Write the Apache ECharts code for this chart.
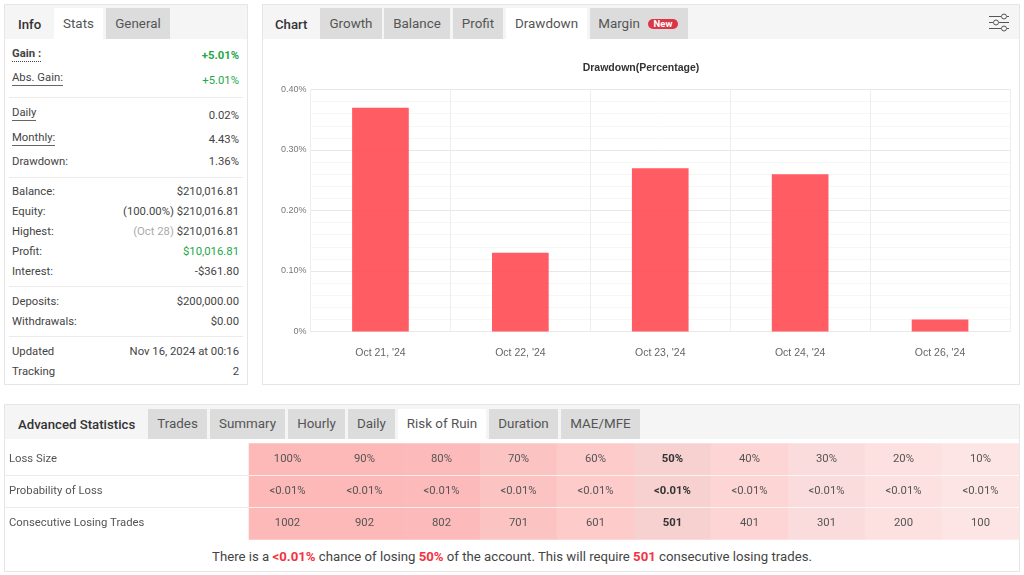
<!DOCTYPE html>
<html>
<head>
<meta charset="UTF-8">
<title>Drawdown</title>
<script src="https://cdn.jsdelivr.net/npm/echarts@6/dist/echarts.min.js"></script>
<style>
    html, body { margin: 0; padding: 0; background: #fff; }
    body { width: 1024px; height: 575px; position: relative; overflow: hidden; font-family: Roboto, sans-serif; color: #444; }
    .panel { position: absolute; box-sizing: border-box; border: 1px solid #e6e6e6; background: #fff; }
    .bar { position: absolute; background: #f5f5f5; }
    .tab { position: absolute; background: #dcdcdc; color: #555; font-size: 13.4px; text-align: center; }
    .tab.on { background: #fff; }
    .head { position: absolute; color: #333; font-size: 13.2px; font-weight: 500; }
    .t { position: absolute; font-size: 11.3px; line-height: 14px; white-space: nowrap; }
    .hr { position: absolute; height: 1px; background: #ebebeb; }
    .badge { position: absolute; left: 648px; top: 19px; width: 30px; height: 10px; border-radius: 5px; background: #dc3545; color: #fff; font-size: 9.5px; line-height: 10px; font-weight: 700; text-align: center; }
    b.red { color: #f5333f; font-weight: 700; }
</style>
</head>
<body>
    <div class="panel" style="left:4px;top:4px;width:244px;height:381px"></div>
    <div class="panel" style="left:262px;top:4px;width:758px;height:381px"></div>
    <div class="panel" style="left:4px;top:404px;width:1016px;height:168px"></div>
    <div class="bar" style="left:5px;top:5px;width:242px;height:34px"></div>
    <div class="bar" style="left:263px;top:5px;width:756px;height:34px"></div>
    <div class="bar" style="left:5px;top:405px;width:1014px;height:34px"></div>
    <div id="tabs"></div>
    <div id="side"></div>
    <div class="badge">New</div>
    <svg style="position:absolute;left:988px;top:12px" width="22" height="21" fill="none" stroke="#555" stroke-width="1">
        <path d="M1 4.5H13M19 4.5H21M1 10.5H5M11 10.5H21M1 16.5H13M19 16.5H21"/>
        <circle cx="16" cy="4.5" r="2.5"/><circle cx="8" cy="10.5" r="2.5"/><circle cx="16" cy="16.5" r="2.5"/>
    </svg>
    <div id="chart" style="position:absolute;left:262px;top:40px;width:758px;height:344px"></div>
    <div id="risk" style="position:absolute;left:5px;top:440px;width:1015px;height:102px"></div>
    <div class="hr" style="left:5px;top:475px;width:244px"></div>
    <div class="hr" style="left:5px;top:507px;width:244px"></div>
    <div class="hr" style="left:249px;top:475px;width:770px;background:#fff;opacity:.7"></div>
    <div class="hr" style="left:249px;top:507px;width:770px;background:#fff;opacity:.7"></div>
    <div class="t" style="left:5px;width:1014px;top:549px;line-height:16px;font-size:13.2px;text-align:center">There is a <b class="red">&lt;0.01%</b> chance of losing <b class="red">50%</b> of the account. This will require <b class="red">501</b> consecutive losing trades.</div>

    <script>
        // drawdown chart
        var days = ["Oct 21, '24", "Oct 22, '24", "Oct 23, '24", "Oct 24, '24", "Oct 26, '24"];
        var drawdown = [0.37, 0.13, 0.27, 0.26, 0.02];

        // risk of ruin table
        var rowNames = ['Loss Size', 'Probability of Loss', 'Consecutive Losing Trades'];
        var lossSize = ['100%', '90%', '80%', '70%', '60%', '50%', '40%', '30%', '20%', '10%'];
        var lossProb = ['<0.01%', '<0.01%', '<0.01%', '<0.01%', '<0.01%', '<0.01%', '<0.01%', '<0.01%', '<0.01%', '<0.01%'];
        var lossTrades = ['1002', '902', '802', '701', '601', '501', '401', '301', '200', '100'];
        var cellColors = ['#fdb8b8', '#fdb8b8', '#fdbaba', '#fcc3c3', '#fecbcb', '#f7d0d0', '#fdd5d5', '#fbdcdc', '#fde0e0', '#fee5e5'];

        // tabs: text, left, width, active
        var tabs = [
            ['Stats', 54, 49, 1, 8, 31], ['General', 106, 64, 0, 8, 31],
            ['Growth', 320, 62, 0, 8, 31], ['Balance', 384, 66, 0, 8, 31], ['Profit', 453, 50, 0, 8, 31],
            ['Drawdown', 506, 81, 1, 8, 31], ['Margin', 590, 98, 0, 8, 31],
            ['Trades', 148, 59, 0, 409, 30], ['Summary', 210, 75, 0, 409, 30], ['Hourly', 288, 57, 0, 409, 30],
            ['Daily', 348, 47, 0, 409, 30], ['Risk of Ruin', 398, 88, 1, 409, 30], ['Duration', 489, 69, 0, 409, 30],
            ['MAE/MFE', 561, 79, 0, 409, 30]
        ];
        var heads = [['Info', 18, 17], ['Chart', 275, 17], ['Advanced Statistics', 18, 417]];

        // side table: label, label y, value, value y
        var stats = [
            ['Gain :', 53, '+5.01%', 55], ['Abs. Gain:', 77, '+5.01%', 80],
            ['Daily', 112, '0.02%', 115], ['Monthly:', 137, '4.43%', 139], ['Drawdown:', 161, '1.36%', 161],
            ['Balance:', 191, '$210,016.81', 191], ['Equity:', 211, '$210,016.81', 211], ['Highest:', 231, '$210,016.81', 231],
            ['Profit:', 251, '$10,016.81', 251], ['Interest:', 271, '-$361.80', 271],
            ['Deposits:', 301, '$200,000.00', 301], ['Withdrawals:', 321, '$0.00', 321],
            ['Updated', 351, 'Nov 16, 2024 at 00:16', 351], ['Tracking', 371, '2', 371]
        ];
        var rules = [97, 177, 286, 336];

        var html = '';
        tabs.forEach(function (t) {
            var w = t[0] === 'Margin' ? 'padding-right:40px;width:58px;' : 'width:' + t[2] + 'px;';
            html += '<div class="tab' + (t[3] ? ' on' : '') + '" style="left:' + t[1] + 'px;top:' + t[4] + 'px;' + w + 'height:' + t[5] + 'px;line-height:' + t[5] + 'px">' + t[0] + '</div>';
        });
        heads.forEach(function (h) {
            html += '<div class="head" style="left:' + h[1] + 'px;top:' + h[2] + 'px">' + h[0] + '</div>';
        });
        document.getElementById('tabs').innerHTML = html;

        html = '';
        stats.forEach(function (s, i) {
            var deco = '';
            if (i === 0) deco = 'font-weight:700;border-bottom:1px dotted #444;';
            if (i === 1 || i === 2 || i === 3) deco = 'border-bottom:1px solid #666;';
            html += '<div class="t" style="left:12px;top:' + (s[1] - 6) + 'px;' + deco + '">' + s[0] + '</div>';
            var col = (i < 2 || s[0] === 'Profit:') ? '#22a846' : '#444';
            var pre = '';
            if (s[0] === 'Equity:') pre = '(100.00%) ';
            if (s[0] === 'Highest:') pre = '<span style="color:#aaa">(Oct 28)</span> ';
            html += '<div class="t" style="right:785px;top:' + (s[3] - 6) + 'px;color:' + col + ';' + (i === 0 ? 'font-weight:700;' : '') + '">' + pre + s[2] + '</div>';
        });
        rules.forEach(function (y) {
            html += '<div class="hr" style="left:9px;width:234px;top:' + y + 'px"></div>';
        });
        document.getElementById('side').innerHTML = html;

        var myChart = echarts.init(document.getElementById('chart'));
        myChart.setOption({
            animation: false,
            textStyle: { fontFamily: 'Liberation Sans' },
            title: {
                text: 'Drawdown(Percentage)',
                left: 374,
                top: 18,
                textAlign: 'center',
                textStyle: { fontSize: 10.5, fontWeight: 'bold', color: '#333' }
            },
            grid: { left: 48.5, top: 49.5, width: 699.5, height: 242 },
            xAxis: {
                type: 'category',
                data: days,
                axisTick: { show: false },
                axisLine: { lineStyle: { color: '#e8e8e8' } },
                splitLine: { show: true, lineStyle: { color: '#eeeeee' } },
                axisLabel: { color: '#666', fontSize: 10.5, margin: 16 }
            },
            yAxis: {
                type: 'value',
                min: 0,
                max: 0.4,
                interval: 0.1,
                axisLine: { show: false },
                axisTick: { show: false },
                axisLabel: {
                    color: '#777',
                    fontSize: 9,
                    margin: 4,
                    formatter: function (v) { return v === 0 ? '0%' : v.toFixed(2) + '%'; }
                },
                splitLine: { lineStyle: { color: '#e8e8e8' } },
                minorTick: { show: false, splitNumber: 5 },
                minorSplitLine: { show: true, lineStyle: { color: '#f6f6f6' } }
            },
            series: [{
                type: 'bar',
                data: drawdown,
                barWidth: '40.5%',
                itemStyle: { color: 'rgba(255,70,78,0.88)' }
            }]
        });

        var riskRows = [lossSize, lossProb, lossTrades];
        var cells = [];
        riskRows.forEach(function (row, r) {
            row.forEach(function (text, c) {
                cells.push({
                    name: text,
                    value: [c, r, c],
                    itemStyle: { color: cellColors[c] },
                    label: { fontWeight: c === 5 ? 'bold' : 'normal', color: c === 5 ? '#333' : '#555' }
                });
            });
        });

        var riskChart = echarts.init(document.getElementById('risk'));
        riskChart.setOption({
            animation: false,
            textStyle: { fontFamily: 'Roboto' },
            grid: { left: 244, top: 3.5, width: 770, height: 96 },
            xAxis: {
                type: 'category',
                data: lossSize,
                show: false
            },
            yAxis: {
                type: 'category',
                data: rowNames,
                inverse: true,
                axisLine: { show: false },
                axisTick: { show: false },
                splitLine: { show: false },
                axisLabel: { align: 'left', margin: 240, color: '#555', fontSize: 11.3, fontFamily: 'Roboto' }
            },
            series: [{
                type: 'heatmap',
                data: cells,
                label: {
                    show: true,
                    fontSize: 11.3,
                    fontFamily: 'Roboto',
                    formatter: function (p) { return p.name; }
                }
            }]
        });
    </script>
</body>
</html>
